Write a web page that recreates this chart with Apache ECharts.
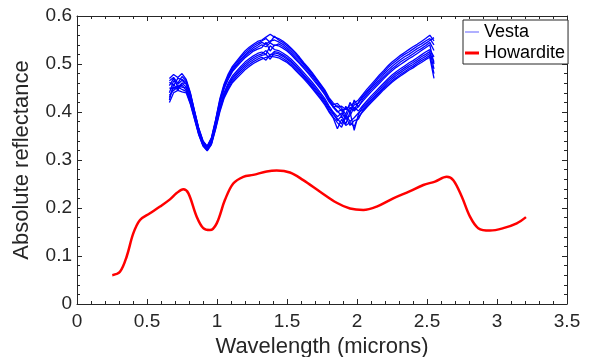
<!DOCTYPE html>
<html><head><meta charset="utf-8">
<script src="https://cdn.jsdelivr.net/npm/echarts@6/dist/echarts.min.js"></script>
<style>html,body{margin:0;padding:0;background:#fff}#c{width:591px;height:357px}</style>
</head><body><div id="c"></div>
<script>
// Howardite laboratory spectrum
var howWl = [0.252,0.307,0.355,0.402,0.45,0.521,0.593,0.664,0.712,0.759,0.795,0.855,0.902,0.95,0.998,1.057,1.116,1.188,1.259,1.355,1.426,1.521,1.616,1.736,1.855,1.95,2.045,2.141,2.259,2.379,2.474,2.557,2.641,2.688,2.748,2.807,2.866,2.95,3.045,3.141,3.207];
var howRef = [0.060,0.067,0.099,0.147,0.175,0.189,0.203,0.218,0.231,0.239,0.231,0.182,0.158,0.154,0.168,0.217,0.251,0.265,0.269,0.276,0.278,0.274,0.258,0.234,0.211,0.199,0.196,0.203,0.220,0.235,0.248,0.255,0.265,0.258,0.224,0.182,0.158,0.153,0.158,0.168,0.181];

// Vesta spectra (shared wavelength grid)
var vestaWl = [0.66,0.69,0.72,0.75,0.78,0.81,0.84,0.87,0.90,0.93,0.96,0.99,1.02,1.05,1.08,1.11,1.14,1.17,1.20,1.23,1.26,1.29,1.32,1.35,1.38,1.41,1.44,1.47,1.50,1.53,1.56,1.59,1.62,1.65,1.68,1.71,1.74,1.77,1.80,1.83,1.86,1.89,1.92,1.95,1.98,2.01,2.04,2.07,2.10,2.13,2.16,2.19,2.22,2.25,2.28,2.31,2.34,2.37,2.40,2.43,2.46,2.49,2.52,2.55];
var vestaA = [0.47,0.478,0.472,0.48,0.468,0.44,0.402,0.366,0.34,0.329,0.346,0.384,0.427,0.458,0.479,0.495,0.506,0.517,0.527,0.535,0.541,0.547,0.55,0.556,0.562,0.556,0.553,0.548,0.541,0.533,0.524,0.514,0.503,0.493,0.482,0.47,0.458,0.446,0.43,0.419,0.41,0.412,0.405,0.414,0.418,0.425,0.436,0.447,0.457,0.467,0.477,0.486,0.496,0.504,0.511,0.518,0.524,0.53,0.536,0.541,0.547,0.553,0.56,0.548];
var vestaG = [0.465,0.472,0.46,0.474,0.465,0.438,0.401,0.365,0.339,0.328,0.345,0.382,0.424,0.455,0.476,0.492,0.503,0.514,0.523,0.531,0.538,0.543,0.548,0.553,0.545,0.558,0.55,0.545,0.538,0.53,0.521,0.511,0.5,0.49,0.48,0.468,0.456,0.444,0.428,0.415,0.418,0.408,0.395,0.42,0.405,0.42,0.433,0.443,0.453,0.463,0.473,0.482,0.492,0.5,0.507,0.514,0.52,0.525,0.531,0.537,0.542,0.548,0.553,0.54];
var vestaB = [0.462,0.455,0.47,0.468,0.462,0.436,0.399,0.363,0.338,0.327,0.343,0.38,0.421,0.452,0.473,0.489,0.499,0.51,0.519,0.527,0.534,0.539,0.545,0.541,0.548,0.55,0.546,0.541,0.534,0.526,0.517,0.508,0.498,0.488,0.477,0.466,0.455,0.442,0.427,0.41,0.413,0.402,0.408,0.401,0.415,0.418,0.43,0.44,0.45,0.459,0.468,0.478,0.487,0.495,0.502,0.509,0.515,0.52,0.526,0.532,0.537,0.543,0.549,0.555];
var vestaH = [0.455,0.47,0.452,0.46,0.46,0.434,0.398,0.362,0.337,0.327,0.342,0.379,0.42,0.45,0.47,0.486,0.497,0.507,0.516,0.524,0.53,0.535,0.54,0.536,0.544,0.538,0.542,0.537,0.53,0.522,0.513,0.504,0.494,0.484,0.474,0.462,0.451,0.439,0.424,0.412,0.402,0.392,0.412,0.398,0.425,0.41,0.426,0.436,0.446,0.455,0.464,0.473,0.482,0.49,0.497,0.504,0.51,0.515,0.521,0.527,0.532,0.538,0.545,0.528];
var vestaC = [0.44,0.465,0.458,0.466,0.458,0.432,0.397,0.361,0.336,0.326,0.341,0.377,0.418,0.448,0.468,0.484,0.494,0.504,0.513,0.52,0.527,0.531,0.534,0.545,0.527,0.54,0.538,0.533,0.527,0.519,0.51,0.501,0.491,0.481,0.47,0.459,0.448,0.436,0.421,0.41,0.4,0.405,0.388,0.41,0.402,0.412,0.422,0.432,0.442,0.451,0.46,0.469,0.478,0.486,0.493,0.499,0.505,0.511,0.516,0.522,0.528,0.534,0.54,0.5];
var vestaD = [0.45,0.448,0.455,0.452,0.45,0.426,0.392,0.358,0.333,0.323,0.338,0.372,0.411,0.44,0.46,0.475,0.485,0.495,0.504,0.511,0.517,0.522,0.525,0.52,0.538,0.53,0.528,0.523,0.517,0.51,0.501,0.492,0.482,0.472,0.462,0.451,0.44,0.428,0.413,0.4,0.39,0.398,0.385,0.392,0.41,0.402,0.413,0.423,0.433,0.442,0.451,0.46,0.469,0.477,0.484,0.49,0.496,0.502,0.507,0.513,0.519,0.525,0.53,0.515];
var vestaI = [0.425,0.458,0.445,0.46,0.452,0.424,0.39,0.357,0.332,0.322,0.336,0.37,0.408,0.437,0.456,0.471,0.481,0.491,0.5,0.507,0.513,0.518,0.521,0.528,0.518,0.526,0.524,0.519,0.513,0.506,0.497,0.488,0.478,0.468,0.458,0.447,0.436,0.424,0.41,0.398,0.382,0.392,0.375,0.4,0.362,0.395,0.41,0.419,0.429,0.438,0.447,0.456,0.465,0.473,0.48,0.486,0.492,0.498,0.503,0.509,0.515,0.52,0.526,0.49];
var vestaE = [0.43,0.452,0.448,0.456,0.445,0.421,0.388,0.355,0.331,0.321,0.335,0.368,0.406,0.434,0.453,0.468,0.478,0.487,0.496,0.503,0.509,0.514,0.518,0.52,0.51,0.523,0.521,0.516,0.51,0.503,0.494,0.485,0.475,0.465,0.455,0.444,0.433,0.421,0.407,0.395,0.386,0.375,0.395,0.38,0.388,0.398,0.406,0.416,0.425,0.434,0.443,0.452,0.461,0.469,0.476,0.482,0.488,0.494,0.499,0.505,0.511,0.516,0.522,0.505];
var vestaJ = [0.435,0.445,0.452,0.447,0.443,0.418,0.386,0.353,0.33,0.32,0.333,0.366,0.403,0.431,0.449,0.464,0.474,0.483,0.492,0.499,0.505,0.51,0.514,0.508,0.52,0.519,0.517,0.512,0.506,0.499,0.49,0.481,0.472,0.462,0.452,0.441,0.43,0.418,0.403,0.39,0.378,0.368,0.39,0.372,0.382,0.385,0.403,0.413,0.422,0.431,0.44,0.449,0.457,0.465,0.472,0.478,0.484,0.49,0.495,0.501,0.507,0.512,0.518,0.48];
var vestaF = [0.42,0.44,0.445,0.442,0.44,0.416,0.384,0.352,0.329,0.319,0.332,0.364,0.4,0.428,0.446,0.461,0.47,0.479,0.488,0.495,0.501,0.506,0.51,0.514,0.516,0.515,0.513,0.508,0.503,0.496,0.487,0.478,0.469,0.459,0.449,0.438,0.427,0.415,0.4,0.388,0.365,0.385,0.372,0.378,0.37,0.39,0.4,0.41,0.419,0.428,0.437,0.446,0.454,0.462,0.469,0.475,0.481,0.487,0.492,0.498,0.503,0.509,0.514,0.47];
var vestaSpectra = [vestaA, vestaG, vestaB, vestaH, vestaC, vestaD, vestaI, vestaE, vestaJ, vestaF];

var xTickLabels = ['0','0.5','1','1.5','2','2.5','3','3.5'];
var yTickLabels = ['0','0.1','0.2','0.3','0.4','0.5','0.6'];

function pairs(xs, ys){ return xs.map(function(x,i){ return [x, ys[i]]; }); }

var axisCol = '#262626';
var font = 'Liberation Sans, Arial, Helvetica, sans-serif';

function xAx(pos, labels){
  return {type:'value', position:pos, min:0, max:3.5, interval:0.5,
    axisLine:{show:true, onZero:false, lineStyle:{color:axisCol, width:1}},
    axisTick:{show:true, inside:true, length:5, lineStyle:{color:axisCol}},
    minorTick:{show:true, splitNumber:5, length:3, lineStyle:{color:axisCol}},
    splitLine:{show:false},
    axisLabel:{show:labels, color:axisCol, fontSize:19, fontFamily:font, margin:8,
      formatter:function(v){ return xTickLabels[Math.round(v/0.5)]; }},
    name: labels ? 'Wavelength (microns)' : '', nameLocation:'middle', nameGap:32,
    nameTextStyle:{color:axisCol, fontSize:22, fontFamily:font}};
}
function yAx(pos, labels){
  return {type:'value', position:pos, min:0, max:0.6, interval:0.1,
    axisLine:{show:true, onZero:false, lineStyle:{color:axisCol, width:1}},
    axisTick:{show:true, inside:true, length:5, lineStyle:{color:axisCol}},
    minorTick:{show:true, splitNumber:5, length:3, lineStyle:{color:axisCol}},
    splitLine:{show:false},
    axisLabel:{show:labels, color:axisCol, fontSize:19, fontFamily:font, margin:5,
      formatter:function(v){ return yTickLabels[Math.round(v/0.1)]; }},
    name: labels ? 'Absolute reflectance' : '', nameLocation:'middle', nameGap:44,
    nameTextStyle:{color:axisCol, fontSize:22, fontFamily:font}};
}

var series = vestaSpectra.map(function(s){
  return {name:'Vesta', type:'line', data:pairs(vestaWl, s), showSymbol:false, symbol:'none',
    lineStyle:{color:'#0000ff', width:1.3}, itemStyle:{color:'#0000ff'}, animation:false, z:2};
});
series.push({name:'Howardite', type:'line', data:pairs(howWl, howRef), smooth:0.35, showSymbol:false, symbol:'none',
  lineStyle:{color:'#ff0000', width:2.5}, itemStyle:{color:'#ff0000'}, animation:false, z:3});

var chart = echarts.init(document.getElementById('c'), null, {renderer:'canvas'});
chart.setOption({
  backgroundColor:'#fff',
  animation:false,
  grid:{left:77, right:24, top:16, bottom:53, containLabel:false, outerBoundsMode:'none'},
  xAxis:[xAx('bottom', true), xAx('top', false)],
  yAxis:[yAx('left', true), yAx('right', false)],
  legend:{show:true, orient:'vertical', left:463, top:20,
    backgroundColor:'#fff', borderColor:axisCol, borderWidth:1, borderRadius:0,
    padding:[3,3,2,2], itemGap:3, itemWidth:14, itemHeight:14,
    textStyle:{color:'#000', fontSize:18, fontFamily:font},
    data:[{name:'Vesta', icon:'path://M0,0H14V1H0Z', itemStyle:{color:'#6060ff'}},
          {name:'Howardite', icon:'path://M0,0H14V3H0Z', itemStyle:{color:'#ff0000'}}]},
  series:series
});
</script></body></html>
